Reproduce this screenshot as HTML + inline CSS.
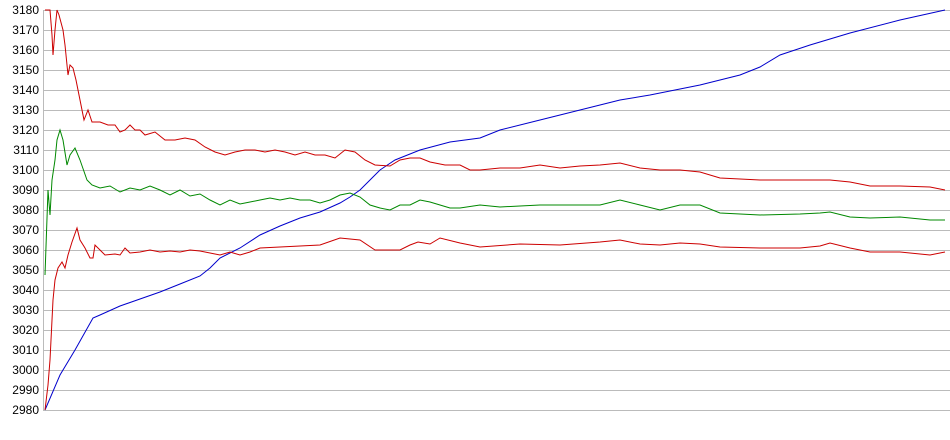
<!DOCTYPE html>
<html><head><meta charset="utf-8"><style>
body{margin:0;background:#fff;width:950px;height:435px;overflow:hidden}
text{font-family:"Liberation Sans",sans-serif;font-size:12px;fill:#000}
</style></head><body>
<svg width="950" height="435" xmlns="http://www.w3.org/2000/svg">
<g stroke="#bbb" stroke-width="1">
<line x1="43" y1="10.5" x2="950" y2="10.5"/><line x1="43" y1="30.5" x2="950" y2="30.5"/><line x1="43" y1="50.5" x2="950" y2="50.5"/><line x1="43" y1="70.5" x2="950" y2="70.5"/><line x1="43" y1="90.5" x2="950" y2="90.5"/><line x1="43" y1="110.5" x2="950" y2="110.5"/><line x1="43" y1="130.5" x2="950" y2="130.5"/><line x1="43" y1="150.5" x2="950" y2="150.5"/><line x1="43" y1="170.5" x2="950" y2="170.5"/><line x1="43" y1="190.5" x2="950" y2="190.5"/><line x1="43" y1="210.5" x2="950" y2="210.5"/><line x1="43" y1="230.5" x2="950" y2="230.5"/><line x1="43" y1="250.5" x2="950" y2="250.5"/><line x1="43" y1="270.5" x2="950" y2="270.5"/><line x1="43" y1="290.5" x2="950" y2="290.5"/><line x1="43" y1="310.5" x2="950" y2="310.5"/><line x1="43" y1="330.5" x2="950" y2="330.5"/><line x1="43" y1="350.5" x2="950" y2="350.5"/><line x1="43" y1="370.5" x2="950" y2="370.5"/><line x1="43" y1="390.5" x2="950" y2="390.5"/><line x1="43" y1="410.5" x2="950" y2="410.5"/>
<line x1="43.5" y1="10" x2="43.5" y2="411"/>
</g>
<g text-anchor="end">
<text x="39" y="14">3180</text><text x="39" y="34">3170</text><text x="39" y="54">3160</text><text x="39" y="74">3150</text><text x="39" y="94">3140</text><text x="39" y="114">3130</text><text x="39" y="134">3120</text><text x="39" y="154">3110</text><text x="39" y="174">3100</text><text x="39" y="194">3090</text><text x="39" y="214">3080</text><text x="39" y="234">3070</text><text x="39" y="254">3060</text><text x="39" y="274">3050</text><text x="39" y="294">3040</text><text x="39" y="314">3030</text><text x="39" y="334">3020</text><text x="39" y="354">3010</text><text x="39" y="374">3000</text><text x="39" y="394">2990</text><text x="39" y="414">2980</text>
</g>
<g fill="none" stroke-width="1">
<polyline stroke="#0000cc" points="45,410 60,375 75,350 93,318 100,315 120,306 140,299 160,292 180,284 200,276 210,268 220,258 240,248 260,235 280,226 300,218 320,212 340,203 350,197 360,190 370,180 380,170 395,160 420,150 450,142 480,138 500,130 540,120 580,110 620,100 650,95 700,85 740,75 760,67 780,55 810,45 850,33 900,20 945,10"/>
<polyline stroke="#cc0000" points="45,10 50,10 52,35 53,55 55,30 57,10 59,15 63,30 65,45 68,75 70,65 73,68 76,80 80,100 84,120 88,110 92,122 100,122 108,125 115,125 120,132 125,130 130,125 135,130 140,130 145,135 155,132 165,140 175,140 185,138 195,140 205,147 215,152 225,155 235,152 245,150 255,150 265,152 275,150 285,152 295,155 305,152 315,155 325,155 335,158 345,150 355,152 365,160 375,165 390,166 400,160 410,158 420,158 430,162 445,165 460,165 470,170 480,170 500,168 520,168 540,165 560,168 580,166 600,165 620,163 640,168 660,170 680,170 700,172 720,178 740,179 760,180 800,180 830,180 850,182 870,186 900,186 930,187 945,190"/>
<polyline stroke="#008800" points="45,275 48,190 50,215 52,180 55,160 57,140 60,130 63,140 67,165 70,155 75,148 80,160 87,180 92,185 100,188 110,186 120,192 130,188 140,190 150,186 160,190 170,195 180,190 190,196 200,194 210,200 220,205 230,200 240,204 250,202 260,200 270,198 280,200 290,198 300,200 310,200 320,203 330,200 340,195 350,193 360,197 370,205 380,208 390,210 400,205 410,205 420,200 430,202 440,205 450,208 460,208 480,205 500,207 520,206 540,205 560,205 600,205 620,200 640,205 660,210 680,205 700,205 720,213 740,214 760,215 800,214 820,213 830,212 850,217 870,218 900,217 930,220 945,220"/>
<polyline stroke="#cc0000" points="45,410 48,385 50,360 53,300 55,280 58,268 62,262 65,268 68,255 72,242 77,228 80,240 85,248 90,258 93,258 95,245 100,250 105,255 115,254 120,255 125,248 130,253 140,252 150,250 160,252 170,251 180,252 190,250 200,251 210,253 220,255 230,252 240,255 250,252 260,248 280,247 300,246 320,245 340,238 360,240 375,250 390,250 400,250 410,245 418,242 430,244 440,238 460,243 480,247 520,244 560,245 600,242 620,240 640,244 660,245 680,243 700,244 720,247 760,248 800,248 820,246 830,243 850,248 870,252 900,252 930,255 945,252"/>
</g>
</svg>
</body></html>
